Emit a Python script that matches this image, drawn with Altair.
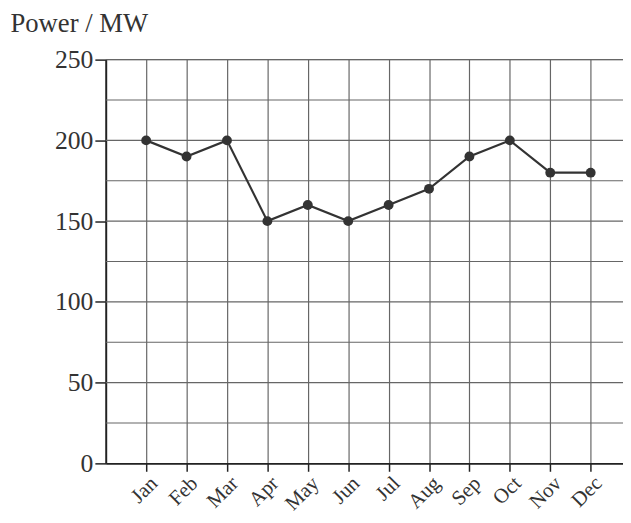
import altair as alt
import pandas as pd

months = ["Jan", "Feb", "Mar", "Apr", "May", "Jun", "Jul", "Aug", "Sep", "Oct", "Nov", "Dec"]
power = [200, 190, 200, 150, 160, 150, 160, 170, 190, 200, 180, 180]
grid_levels = [25, 50, 75, 100, 125, 150, 175, 200, 225, 250]

df = pd.DataFrame({"idx": list(range(1, 13)), "month": months, "power": power})
grid_df = pd.DataFrame({"power": grid_levels})

label_expr = "[" + ",".join(f"'{m}'" for m in months) + "][datum.value - 1]"

FONT = "Liberation Serif"

x_axis = alt.Axis(
    values=list(range(1, 13)),
    labelExpr=label_expr,
    labelAngle=-45,
    labelAlign="right",
    labelBaseline="top",
    labelOverlap=False,
    labelFont=FONT,
    labelFontSize=21,
    labelColor="#333",
    labelPadding=1,
    tickSize=8,
    tickColor="#222",
    tickWidth=1.5,
    domainColor="#222",
    domainWidth=2,
    grid=True,
    gridColor="#666",
    gridWidth=1.2,
    title=None,
)

y_axis = alt.Axis(
    values=[0, 50, 100, 150, 200, 250],
    labelFont=FONT,
    labelFontSize=26,
    labelColor="#333",
    labelPadding=2,
    tickSize=11,
    tickColor="#222",
    tickWidth=1.5,
    domainColor="#222",
    domainWidth=2,
    grid=False,
    title="Power / MW",
    titleFont=FONT,
    titleFontSize=27,
    titleFontWeight="normal",
    titleColor="#333",
    titleAngle=0,
    titleAlign="left",
    titleBaseline="alphabetic",
    titleX=-97,
    titleY=-28,
)

xscale = alt.Scale(domain=[0, 12.8], nice=False, zero=False)
yscale = alt.Scale(domain=[0, 250], nice=False)

hgrid = alt.Chart(grid_df).mark_rule(color="#666", strokeWidth=1.2).encode(
    y=alt.Y("power:Q", scale=yscale, axis=y_axis)
)

base = alt.Chart(df)
line = base.mark_line(color="#333", strokeWidth=2.2).encode(
    x=alt.X("idx:Q", scale=xscale, axis=x_axis),
    y=alt.Y("power:Q", scale=yscale, axis=y_axis),
)
pts = base.mark_circle(color="#333", size=100, opacity=1).encode(
    x=alt.X("idx:Q", scale=xscale, axis=x_axis),
    y=alt.Y("power:Q", scale=yscale, axis=y_axis),
)

chart = (
    alt.layer(hgrid, line, pts)
    .properties(
        width=524,
        height=409,
        autosize=alt.AutoSizeParams(type="none"),
        padding={"left": 99, "top": 49, "right": 0, "bottom": 49},
    )
    .configure_view(stroke=None)
    .configure(background="white")
)

chart.save("out.html", embed_options={"renderer": "svg", "actions": False})
